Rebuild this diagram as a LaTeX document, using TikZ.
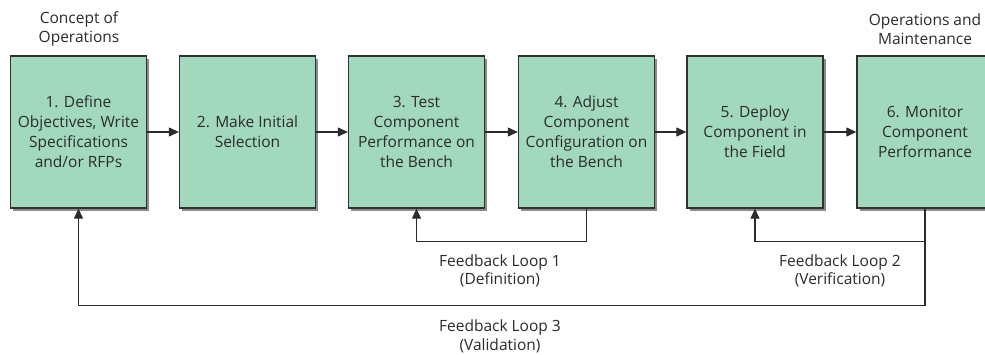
\documentclass[tikz,border=0pt]{standalone}
\usepackage{fontspec}
\setmainfont{Open Sans}
\usetikzlibrary{arrows.meta,shadows}
\definecolor{boxfill}{HTML}{A2D9BE}
\definecolor{boxline}{HTML}{2E3330}
\definecolor{inkc}{HTML}{2B2B2B}
\begin{document}
\begin{tikzpicture}[x=1pt,y=-1pt,
  stage/.style={draw=boxline, fill=boxfill, line width=1.3pt,
    minimum width=136pt, minimum height=152pt, inner sep=0pt,
    align=center, text=inkc, font=\fontsize{15.5}{20}\selectfont,
    drop shadow={shadow xshift=2.5pt, shadow yshift=-2.5pt, opacity=0.45, fill=black}},
  note/.style={align=center, text=inkc, font=\fontsize{15.5}{18.5}\selectfont},
  flow/.style={draw=inkc, line width=1.1pt, -{Triangle[length=10pt,width=9pt]}},
  fb/.style={flow, rounded corners=0pt}]
\useasboundingbox (0,0) rectangle (985,354);
\fill[white] (0,0) rectangle (985,354);

% stages of the process
\node[stage] (s1) at (78.5,132) {1. Define\\Objectives, Write\\Specifications\\and/or RFPs};
\node[stage] (s2) at (247.5,132) {2. Make Initial\\Selection};
\node[stage] (s3) at (416.5,132) {3. Test\\Component\\Performance on\\the Bench};
\node[stage] (s4) at (586.5,132) {4. Adjust\\Component\\Configuration on\\the Bench};
\node[stage] (s5) at (755,132) {5. Deploy\\Component in\\the Field};
\node[stage] (s6) at (925,132) {6. Monitor\\Component\\Performance};

% phase labels above the first and last stages
\node[note] (con) at (79,29) {Concept of\\Operations};
\node[note] (om) at (925,29) {Operations and\\Maintenance};

% forward flow
\draw[flow] (s1) -- (s2);
\draw[flow] (s2) -- (s3);
\draw[flow] (s3) -- (s4);
\draw[flow] (s4) -- (s5);
\draw[flow] (s5) -- (s6);

% feedback loops
\draw[fb] (s4.south) -- ++(0,33) -| (s3.south);
\draw[fb] (s6.south) -- ++(0,33) -| (s5.south);
\draw[fb] (s6.south) -- ++(0,97) -| (s1.south);

\node[note] (fb1) at (500,271) {Feedback Loop 1\\(Definition)};
\node[note] (fb2) at (840,271) {Feedback Loop 2\\(Verification)};
\node[note] (fb3) at (500,336.5) {Feedback Loop 3\\(Validation)};
\end{tikzpicture}
\end{document}
